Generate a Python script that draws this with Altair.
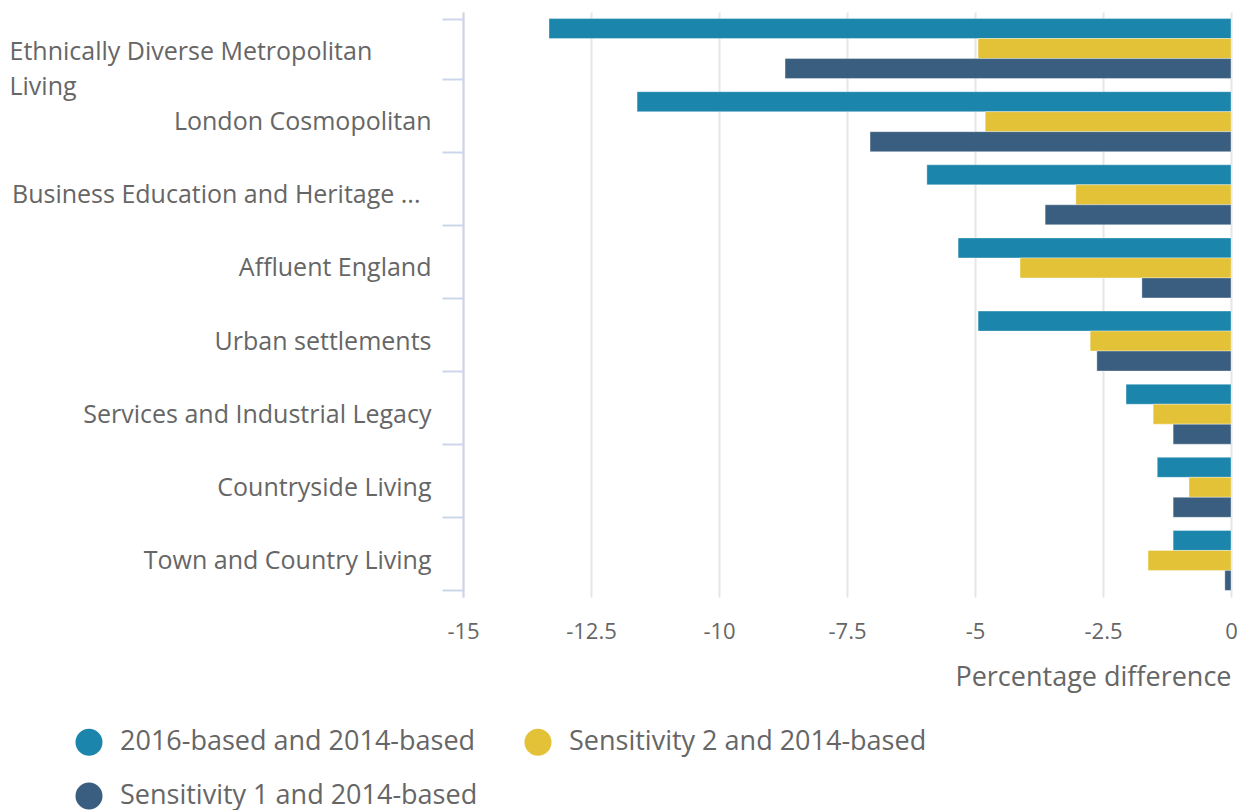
import altair as alt
import pandas as pd

categories = [
    "Ethnically Diverse Metropolitan Living",
    "London Cosmopolitan",
    "Business Education and Heritage ...",
    "Affluent England",
    "Urban settlements",
    "Services and Industrial Legacy",
    "Countryside Living",
    "Town and Country Living",
]
series = [
    "2016-based and 2014-based",
    "Sensitivity 2 and 2014-based",
    "Sensitivity 1 and 2014-based",
]
colors = ["#1b85ab", "#e3c237", "#3a5e7f"]

v_2016 = [-13.32, -11.60, -5.94, -5.33, -4.94, -2.05, -1.44, -1.13]
v_sens2 = [-4.94, -4.80, -3.03, -4.12, -2.75, -1.52, -0.82, -1.62]
v_sens1 = [-8.71, -7.05, -3.63, -1.74, -2.62, -1.13, -1.13, -0.12]

x_ticks = [-15, -12.5, -10, -7.5, -5, -2.5, 0]

rows = []
for s, vals in zip(series, [v_2016, v_sens2, v_sens1]):
    for c, v in zip(categories, vals):
        rows.append({"category": c, "series": s, "value": v})
df = pd.DataFrame(rows)

first = categories[0]
third = categories[2]
is_first = f"datum.value == '{first}'"
is_third = f"datum.value == '{third}'"
label_expr = (
    f"{is_first} ? ['Ethnically Diverse Metropolitan', 'Living'] : datum.value"
)

FONT = "Open Sans"
TXT = "#666666"

chart = (
    alt.Chart(df)
    .mark_bar(stroke="white", strokeOpacity=0.35, strokeWidth=1)
    .encode(
        x=alt.X(
            "value:Q",
            scale=alt.Scale(domain=[-15, 0], nice=False, zero=False),
            axis=alt.Axis(
                values=x_ticks,
                labelExpr="'' + datum.value",
                labelFlush=False,
                domain=False,
                ticks=False,
                grid=True,
                gridColor="#e6e6e6",
                gridWidth=2,
                labelFont=FONT,
                labelFontSize=22,
                labelColor=TXT,
                labelPadding=24,
                title="Percentage difference",
                titleAnchor="end",
                titleFont=FONT,
                titleFontSize=27,
                titleFontWeight="normal",
                titleColor=TXT,
                titlePadding=22,
            ),
        ),
        y=alt.Y(
            "category:N",
            sort=categories,
            scale=alt.Scale(paddingInner=0.18, paddingOuter=0.09),
            axis=alt.Axis(
                title=None,
                labelExpr=label_expr,
                domainColor="#ccd6eb",
                domainWidth=2,
                tickColor="#ccd6eb",
                tickWidth=2,
                tickSize=21,
                tickBand="extent",
                labelFont=FONT,
                labelFontSize=25,
                labelColor=TXT,
                labelLimit=800,
                labelLineHeight=35,
                labelAlign={
                    "condition": {"test": is_first, "value": "left"},
                    "value": "right",
                },
                labelPadding={
                    "condition": [
                        {"test": is_first, "value": 433},
                        {"test": is_third, "value": 22},
                    ],
                    "value": 11,
                },
                labelOffset={
                    "condition": {"test": is_first, "value": 3},
                    "value": 0,
                },
                grid=False,
            ),
        ),
        yOffset=alt.YOffset("series:N", sort=series),
        color=alt.Color(
            "series:N",
            sort=series,
            scale=alt.Scale(domain=series, range=colors),
            legend=alt.Legend(
                title=None,
                orient="none",
                legendX=-388,
                legendY=716,
                direction="horizontal",
                columns=2,
                symbolType="circle",
                symbolSize=730,
                symbolStrokeWidth=0,
                labelFont=FONT,
                labelFontSize=27,
                labelColor=TXT,
                labelLimit=800,
                columnPadding=46,
                rowPadding=26,
                labelOffset=17,
            ),
        ),
    )
    .properties(
        width=768,
        height=585,
        autosize=alt.AutoSizeParams(type="none"),
        padding={"left": 455, "top": 4, "right": 6, "bottom": 213},
    )
    .configure_view(stroke=None)
)

chart.save("out.html", embed_options={"renderer": "svg", "actions": False})
